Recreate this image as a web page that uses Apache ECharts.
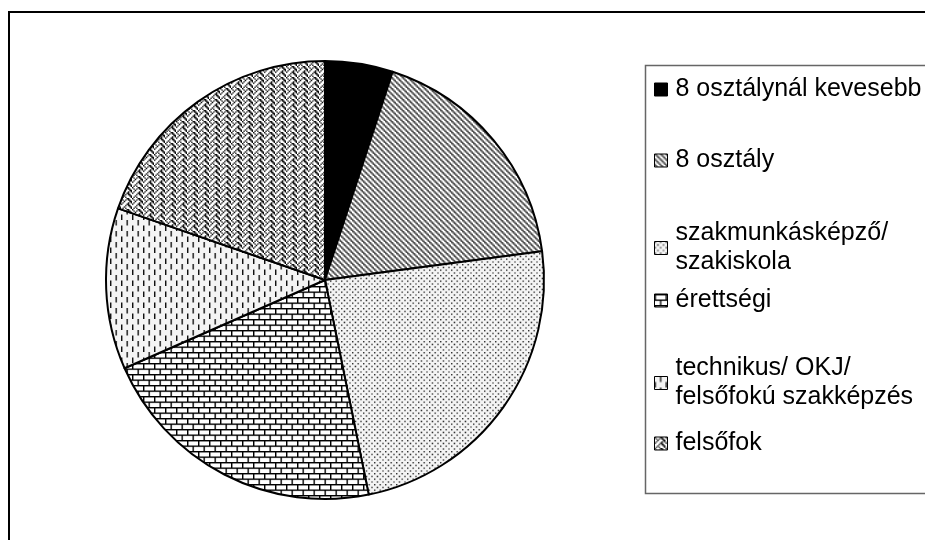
<!DOCTYPE html>
<html>
<head>
<meta charset="utf-8">
<script src="https://cdn.jsdelivr.net/npm/echarts@6/dist/echarts.min.js"></script>
<style>
html,body{margin:0;padding:0;background:#fff;}
#chart{width:925px;height:540px;}
</style>
</head>
<body>
<div id="chart"></div>
<script>
// ---- data ----
var categories = [
  '8 osztálynál kevesebb',
  '8 osztály',
  'szakmunkásképző/\nszakiskola',
  'érettségi',
  'technikus/ OKJ/\nfelsőfokú szakképzés',
  'felsőfok'
];
var values = [5.0, 17.9, 23.9, 21.6, 11.9, 19.7];

// ---- pattern helpers (styles only) ----
function tile(bits, fg, bg, size) {
  var c = document.createElement('canvas');
  c.width = 8; c.height = 8;
  var x = c.getContext('2d');
  x.fillStyle = bg; x.fillRect(0, 0, 8, 8);
  x.fillStyle = fg;
  for (var r = 0; r < 8; r++) {
    for (var b = 0; b < 8; b++) {
      if (bits[r] & (0x80 >> b)) x.fillRect(b, r, 1, 1);
    }
  }
  if (!size || size === 8) return c;
  var s = document.createElement('canvas');
  s.width = size; s.height = size;
  var y = s.getContext('2d');
  y.imageSmoothingEnabled = true;
  y.drawImage(c, 0, 0, size, size);
  return s;
}
function pat(canvas) { return { image: canvas, repeat: 'repeat' }; }

var fills = [
  '#000000',
  pat(tile([0xCC,0x66,0x33,0x99,0xCC,0x66,0x33,0x99], '#555', '#fff', 11)),
  pat(tile([0x88,0x00,0x22,0x00,0x88,0x00,0x22,0x00], '#333', '#f4f4f4', 11)),
  pat(tile([0xFF,0x80,0x80,0x80,0xFF,0x08,0x08,0x08], '#000', '#fff', 11)),
  pat(tile([0x08,0x08,0x08,0x08,0x80,0x80,0x80,0x80], '#111', '#f4f4f4', 11)),
  pat(tile([0x8C,0x56,0x23,0x45,0x8C,0x16,0x23,0x51], '#111', '#fff', 11))
];

var legendTops = [75, 146, 219, 286, 354, 429];

var chart = echarts.init(document.getElementById('chart'), null, {renderer: 'canvas'});

var legends = categories.map(function (name, i) {
  return {
    data: [name],
    left: 654,
    top: legendTops[i],
    orient: 'vertical',
    padding: 0,
    icon: 'rect',
    itemWidth: 13,
    itemHeight: 13,
    selectedMode: false,
    itemStyle: {borderColor: '#000', borderWidth: 1},
    textStyle: {
      fontFamily: 'Liberation Sans, Arial, sans-serif',
      fontSize: 25,
      lineHeight: 29,
      color: '#000',
      padding: [0, 0, 0, 3]
    }
  };
});

chart.setOption({
  animation: false,
  backgroundColor: '#fff',
  legend: legends,
  graphic: [
    {type: 'rect', shape: {x: 9, y: 12, width: 1000, height: 1000},
     style: {fill: 'none', stroke: '#000', lineWidth: 2}, z: 0},
    {type: 'rect', shape: {x: 645.5, y: 65.5, width: 400, height: 428},
     style: {fill: 'none', stroke: '#666', lineWidth: 1.5}, z: 0}
  ],
  series: [{
    type: 'pie',
    center: [325, 280],
    radius: 219,
    startAngle: 90,
    clockwise: true,
    label: {show: false},
    labelLine: {show: false},
    emphasis: {disabled: true},
    itemStyle: {borderColor: '#000', borderWidth: 2},
    data: categories.map(function (n, i) {
      return {name: n, value: values[i], itemStyle: {color: fills[i]}};
    })
  }]
});
</script>
</body>
</html>
